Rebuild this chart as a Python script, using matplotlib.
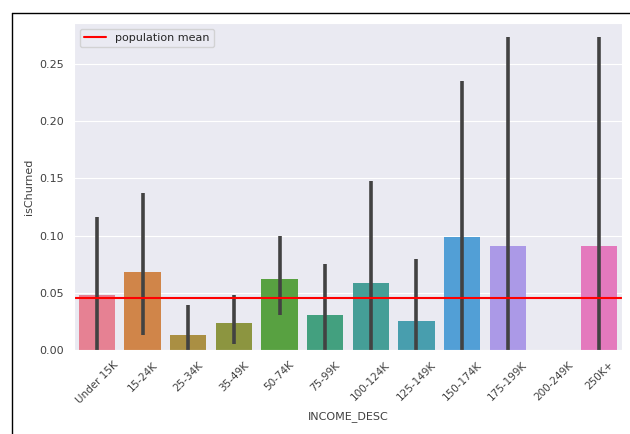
import matplotlib
matplotlib.use("Agg")
from matplotlib import pyplot as plt
from matplotlib.lines import Line2D
import numpy as np
import seaborn as sns

# churn rate by income bracket, with bootstrap CI bounds
income = ["Under 15K", "15-24K", "25-34K", "35-49K", "50-74K", "75-99K",
          "100-124K", "125-149K", "150-174K", "175-199K", "200-249K", "250K+"]
churn_mean = [0.048, 0.068, 0.013, 0.024, 0.062, 0.031,
              0.059, 0.025, 0.099, 0.0909, 0.0, 0.0909]
ci_low = [0.0, 0.013, 0.0, 0.005, 0.031, 0.0,
          0.0, 0.0, 0.0, 0.0, np.nan, 0.0]
ci_high = [0.116, 0.137, 0.039, 0.048, 0.100, 0.075,
           0.148, 0.080, 0.235, 0.274, np.nan, 0.274]
population_mean = 0.0456

sns.set_style("darkgrid")

fig = plt.figure(figsize=(6.3, 4.34), dpi=100)
ax = fig.add_axes([74 / 630, 1 - 350 / 434, 548 / 630, 327 / 434])

pal = [sns.desaturate(c, 0.75) for c in sns.color_palette("husl", len(income))]
x = np.arange(len(income))
ax.bar(x, churn_mean, width=0.8, color=pal, edgecolor="none")
for i in x:
    if not np.isnan(ci_low[i]):
        ax.plot([i, i], [ci_low[i], ci_high[i]], color=".26", lw=2.6,
                solid_capstyle="butt")

ax.axhline(population_mean, color="red", lw=1.5, label="population mean")
ax.legend(loc="upper left", fontsize=8)

ax.set_xlim(-0.5, len(income) - 0.5)
ax.set_ylim(0, 0.286)
ax.grid(False, axis="x")
ax.set_xticks(x)
ax.set_xticklabels(income, rotation=45, fontsize=7.5, color=".25")
ax.set_yticks([0, 0.05, 0.10, 0.15, 0.20, 0.25])
ax.set_yticklabels(["0.00", "0.05", "0.10", "0.15", "0.20", "0.25"],
                   fontsize=8, color=".25")
ax.set_xlabel("INCOME_DESC", fontsize=8, color=".25")
ax.set_ylabel("isChurned", fontsize=8, color=".25")

# frame lines along top and left of the canvas
fig.add_artist(Line2D([12 / 630, 1], [1 - 13 / 434, 1 - 13 / 434],
                      color="black", lw=1.0, transform=fig.transFigure))
fig.add_artist(Line2D([12 / 630, 12 / 630], [0, 1 - 13 / 434],
                      color="black", lw=1.0, transform=fig.transFigure))

plt.savefig("out.png", dpi=100)
